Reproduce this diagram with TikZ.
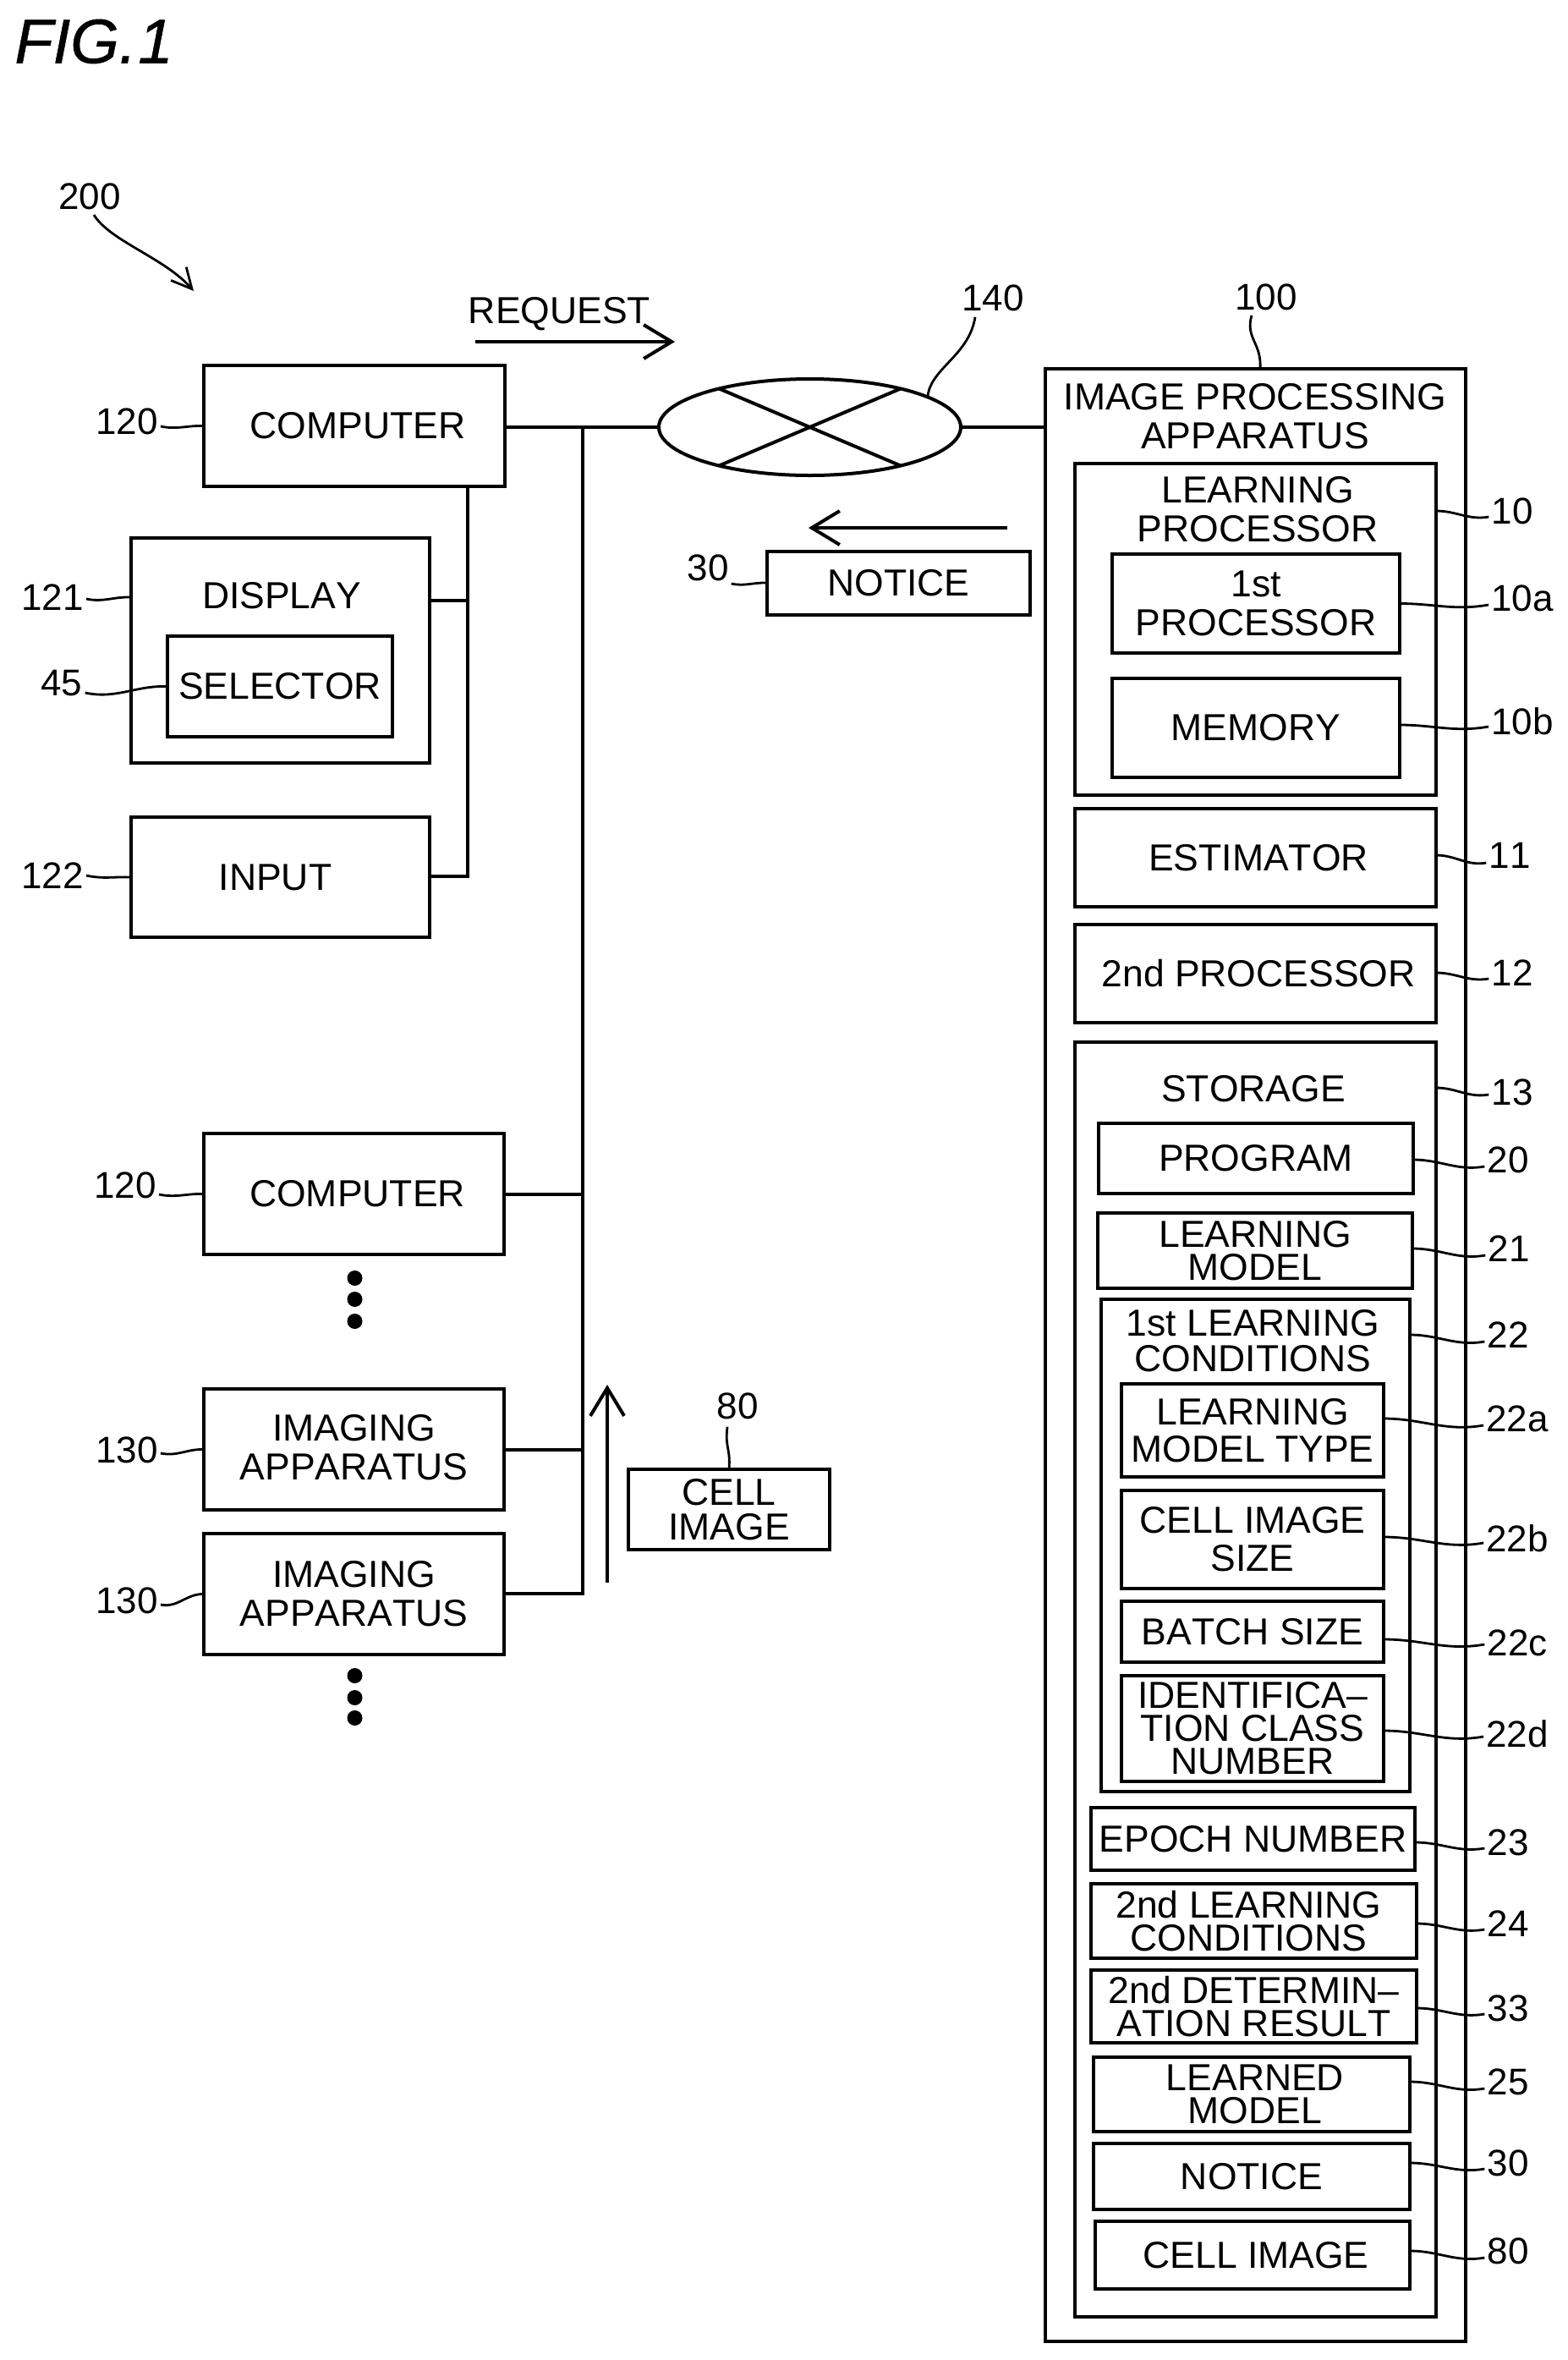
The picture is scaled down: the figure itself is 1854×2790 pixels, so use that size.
\documentclass[tikz,border=0pt]{standalone}
\usepackage{fontspec}
\setmainfont{Liberation Sans}[Kerning=Off]
\usetikzlibrary{shapes.geometric,arrows.meta}
\begin{document}
\begin{tikzpicture}
    [x=1pt, y=-1pt,
      box/.style 2 args = {
        shape=rectangle, draw, line width=4pt,
        minimum width=#1pt, minimum height=#2pt,
        inner sep=0pt, outer sep=0pt, align=center,
        font=\fontsize{44.5}{46}\selectfont
      },
      txt/.style = {
        inner sep=0pt, align=center,
        font=\fontsize{44.5}{46}\selectfont
      },
      num/.style = {
        inner sep=3pt, font=\fontsize{44}{46}\selectfont
      },
      wire/.style = {line width=4pt},
      flow/.style = {line width=4pt, -{Straight Barb[length=33pt, width=40pt, line width=4pt]}},
      leadr/.style = {line width=2.8pt, out=0, in=190},
      leadl/.style = {line width=2.8pt, out=-12, in=178},
      blob/.style = {circle, fill, inner sep=0pt, minimum size=18pt}]
      \useasboundingbox (0,0) rectangle (1854,2790);

      \node [inner sep=0pt, font=\fontsize{74}{76}\selectfont\itshape\addfontfeature{FakeBold=0.8}] (figtitle) at (111,49) {FIG.\hspace{2pt}1};
      \node [num] (l200) at (106,232) {200};
      \coordinate (sys) at (229,344);
      \draw [flow, line width=2.8pt, -{Straight Barb[length=24pt, width=24pt, line width=2.8pt]}]
        ([xshift=5pt, yshift=-22pt]l200.center) .. controls (130,285) and (195,305) .. (sys);

      % left column
      \node [box={356}{143}] (comp-a) at (419,503.5) {\hspace*{8pt}COMPUTER};
      \node [box={353}{266}] (disp) at (331.5,769) {};
      \node [txt] (disp-title) at (333,704) {DISPLAY};
      \node [box={266}{119}] (sel) at (331,811.5) {SELECTOR};
      \node [box={353}{142}] (inp) at (331.5,1037) {INPUT\hspace*{12pt}};
      \node [box={355}{143}] (comp-b) at (418.5,1411.5) {\hspace*{8pt}COMPUTER};
      \node [box={355}{143}] (img-a) at (418.5,1713.5) {IMAGING\\APPARATUS\rule[-6pt]{0pt}{6pt}};
      \node [box={355}{143}] (img-b) at (418.5,1884.5) {IMAGING\\APPARATUS};
      \node [blob] (dot-a1) at (419.5,1511) {};
      \node [blob] (dot-a2) at (419.5,1536) {};
      \node [blob] (dot-a3) at (419.5,1562) {};
      \node [blob] (dot-b1) at (419.5,1981) {};
      \node [blob] (dot-b2) at (419.5,2007) {};
      \node [blob] (dot-b3) at (419.5,2031) {};

      % network and messages
      \node [ellipse, draw, line width=4pt, inner sep=0pt, outer sep=0pt,
        minimum width=357pt, minimum height=114pt] (net) at (957.5,505) {};
      \draw [wire] (net.157) -- (net.-23);
      \draw [wire] (net.23) -- (net.-157);
      \node [txt] (req) at (661.5,371) {REQUEST};
      \coordinate (req-a) at (562,404);
      \coordinate (req-b) at (798,404);
      \draw [flow] (req-a) -- (req-b);
      \coordinate (ntc-a) at (1191,624);
      \coordinate (ntc-b) at (956,624);
      \draw [flow] (ntc-a) -- (ntc-b);
      \node [box={311}{75}] (ntc-msg) at (1062.5,689) {NOTICE};
      \coordinate (cell-a) at (718,1871);
      \coordinate (cell-b) at (718,1637);
      \draw [flow] (cell-a) -- (cell-b);
      \node [box={238}{95}] (cell-msg) at (862,1784.5) {CELL\\[-5pt]IMAGE};

      % image processing apparatus
      \node [box={497}{2332}] (app) at (1484.5,1602) {};
      \node [txt] (app-title) at (1484,492) {IMAGE PROCESSING\\APPARATUS};
      \node [box={427}{392}] (lrn) at (1484.5,744) {};
      \node [txt] (lrn-title) at (1487,602) {LEARNING\\PROCESSOR};
      \node [box={340}{117}] (proc-a) at (1485,713.5) {1st\\PROCESSOR};
      \node [box={340}{117}] (mem) at (1485,860.5) {MEMORY};
      \node [box={427}{116}] (est) at (1484.5,1014) {\hspace*{7pt}ESTIMATOR};
      \node [box={427}{116}] (proc-b) at (1484.5,1151) {\hspace*{7pt}2nd PROCESSOR};

      % storage
      \node [box={427}{1507}] (stor) at (1484.5,1985.5) {};
      \node [txt] (stor-title) at (1482,1287) {STORAGE};
      \node [box={372}{83}] (prog) at (1485,1369.5) {PROGRAM};
      \node [box={372}{89}] (lmod) at (1484,1478.5) {LEARNING\\[-7pt]MODEL};
      \node [box={365}{582}] (cond-a) at (1484.5,1827) {};
      \node [txt] (cond-title) at (1481.5,1585) {1st LEARNING\\[-4pt]CONDITIONS};
      \node [box={310}{110}] (mtype) at (1481,1691) {LEARNING\\[-2pt]MODEL TYPE};
      \node [box={310}{116}] (csize) at (1481,1820) {CELL IMAGE\\[-1pt]SIZE};
      \node [box={310}{72}] (batch) at (1481,1929) {BATCH SIZE};
      \node [box={310}{125}] (idn) at (1481,2043.5) {IDENTIFICA–\\[-7pt]TION CLASS\\[-7pt]NUMBER};
      \node [box={383}{74}] (epoch) at (1481.5,2174) {EPOCH NUMBER};
      \node [box={385}{88}] (cond-b) at (1482.5,2271) {2nd LEARNING\hspace*{12pt}\\[-7pt]CONDITIONS\hspace*{12pt}};
      \node [box={385}{86}] (det) at (1482.5,2372) {2nd DETERMIN–\\[-7pt]ATION RESULT};
      \node [box={374}{88}] (lned) at (1480,2476) {\hspace*{8pt}LEARNED\\[-7pt]\hspace*{8pt}MODEL};
      \node [box={374}{78}] (ntc-st) at (1480,2573) {NOTICE};
      \node [box={372}{80}] (cimg) at (1481,2666) {\hspace*{8pt}CELL IMAGE};

      % wiring
      \coordinate (bus-top) at (689,505);
      \coordinate (bus-end) at (689,1884);
      \draw [wire] (comp-a.east |- net) -- (net.west);
      \draw [wire] (net.east) -- (app.west |- net);
      \draw [wire] (bus-top) -- (bus-end) -- (img-b.east |- bus-end);
      \draw [wire] (comp-b.east) -- (comp-b -| bus-top);
      \draw [wire] (img-a.east) -- (img-a -| bus-top);
      \coordinate (tap) at (553,1036);
      \draw [wire] (comp-a.south -| tap) -- (tap) -- (inp.east |- tap);
      \draw [wire] (disp.east |- 0,710) -- (tap |- 0,710);

      % numerals, left side
      \node [num] (n120a) at (150,498) {120};
      \node [num] (n121) at (62,706) {121};
      \node [num] (n45) at (73,808) {45};
      \node [num] (n122) at (62,1035) {122};
      \node [num] (n120b) at (148,1401) {120};
      \node [num] (n130a) at (150,1714) {130};
      \node [num] (n130b) at (150,1892) {130};
      \node [num] (n30a) at (837,671) {30};
      \node [num] (n80a) at (872,1662) {80};
      \node [num] (n140) at (1174,352) {140};
      \node [num] (n100) at (1497,351) {100};
      \draw [leadl] ([yshift=-6pt]n120a.east) to (comp-a.west);
      \draw [leadl] ([yshift=-2pt]n121.east) to (disp.west |- 0,706);
      \draw [leadl] ([yshift=-11pt]n45.east) to (sel.west);
      \draw [leadl] (n122.east) to (inp.west);
      \draw [leadl] ([yshift=-11pt]n120b.east) to (comp-b.west);
      \draw [leadl] ([yshift=-4pt]n130a.east) to (img-a.west);
      \draw [leadl] ([yshift=-5pt]n130b.east) to (img-b.west);
      \draw [leadl] ([yshift=-19pt]n30a.east) to (ntc-msg.west);
      \draw [line width=2.8pt] ([yshift=-6pt]n80a.south) ++(-12,0) .. controls +(-3,25) and +(2,-25) .. (cell-msg.north);
      \draw [line width=2.8pt] ([xshift=-21pt, yshift=-4pt]n140.south) .. controls (1146,420) and (1101,435) .. (1097,468);
      \draw [line width=2.8pt] ([xshift=-17pt, yshift=-3pt]n100.south) .. controls (1472,400) and (1492,405) .. (app.north -| 1490,0);

      % numerals, right side
      \node [num] (n10) at (1788,604) {10};
      \node [num] (n10a) at (1800,707) {10a};
      \node [num] (n10b) at (1800,853) {10b};
      \node [num] (n11) at (1785,1011) {11};
      \node [num] (n12) at (1788,1150) {12};
      \node [num] (n13) at (1788,1291) {13};
      \node [num] (n20) at (1783,1371) {20};
      \node [num] (n21) at (1784,1476) {21};
      \node [num] (n22) at (1783,1578) {22};
      \node [num] (n22a) at (1794,1677) {22a};
      \node [num] (n22b) at (1794,1819) {22b};
      \node [num] (n22c) at (1794,1942) {22c};
      \node [num] (n22d) at (1794,2050) {22d};
      \node [num] (n23) at (1783,2178) {23};
      \node [num] (n24) at (1783,2274) {24};
      \node [num] (n33) at (1783,2374) {33};
      \node [num] (n25) at (1783,2461) {25};
      \node [num] (n30b) at (1783,2557) {30};
      \node [num] (n80b) at (1783,2661) {80};
      \draw [leadr] (lrn.east |- n10) to ([yshift=-7pt]n10.west);
      \draw [leadr] (proc-a.east) to ([yshift=-8pt]n10a.west);
      \draw [leadr] (mem.east |- 0,857) to ([yshift=-6pt]n10b.west);
      \draw [leadr] (est.east |- n11) to ([yshift=-9pt]n11.west);
      \draw [leadr] (proc-b.east |- n12) to ([yshift=-7pt]n12.west);
      \draw [leadr] (stor.east |- 0,1286) to ([yshift=-3pt]n13.west);
      \draw [leadr] (prog.east |- n20) to ([yshift=-8pt]n20.west);
      \draw [leadr] (lmod.east |- n21) to ([yshift=-8pt]n21.west);
      \draw [leadr] (cond-a.east |- n22) to ([yshift=-8pt]n22.west);
      \draw [leadr] (mtype.east |- n22a) to ([yshift=-8pt]n22a.west);
      \draw [leadr] (csize.east |- 0,1817) to ([yshift=-5pt]n22b.west);
      \draw [leadr] (batch.east |- 0,1938) to ([yshift=-2pt]n22c.west);
      \draw [leadr] (idn.east |- 0,2046) to ([yshift=-3pt]n22d.west);
      \draw [leadr] (epoch.east |- n23) to ([yshift=-7pt]n23.west);
      \draw [leadr] (cond-b.east |- n24) to ([yshift=-7pt]n24.west);
      \draw [leadr] (det.east |- n33) to ([yshift=-7pt]n33.west);
      \draw [leadr] (lned.east |- n25) to ([yshift=-8pt]n25.west);
      \draw [leadr] (ntc-st.east |- n30b) to ([yshift=-7pt]n30b.west);
      \draw [leadr] (cimg.east |- n80b) to ([yshift=-8pt]n80b.west);
  \end{tikzpicture}
\end{document}
